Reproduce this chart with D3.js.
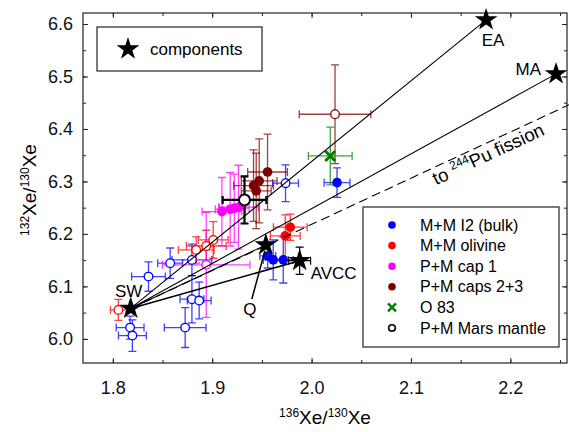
<!DOCTYPE html>
<html>
<head>
<meta charset="utf-8">
<script src="https://cdn.jsdelivr.net/npm/d3@7"></script>
<style>
  body { margin: 0; background: #fff; }
  svg text { font-family: "Liberation Sans", Arial, sans-serif; }
</style>
</head>
<body>
<div id="chart"></div>
<script>
// each point: [136Xe/130Xe, 132Xe/130Xe, xerr, yerr, open?]
const mmBulk = [
    [2.0256, 6.2977, 0.013, 0.028, 0],
    [1.9559, 6.1580, 0.008, 0.023, 0],
    [1.9614, 6.1505, 0.010, 0.038, 0],
    [1.9715, 6.1505, 0.010, 0.044, 0],
    [1.8174, 6.0215, 0.014, 0.022, 1],
    [1.8197, 6.0063, 0.014, 0.030, 1],
    [1.8728, 6.0215, 0.021, 0.038, 1],
    [1.8796, 6.0756, 0.012, 0.045, 1],
    [1.8869, 6.0730, 0.012, 0.035, 1],
    [1.8359, 6.1187, 0.017, 0.028, 1],
    [1.8577, 6.1442, 0.0125, 0.029, 1],
    [1.8796, 6.1505, 0.020, 0.030, 1],
    [1.9738, 6.2966, 0.013, 0.035, 1]
];
const mmOlivine = [
    [1.9786, 6.2128, 0.017, 0.025, 0],
    [1.9735, 6.1962, 0.015, 0.040, 0],
    [1.8056, 6.0552, 0.008, 0.020, 1],
    [1.8940, 6.1770, 0.020, 0.030, 1],
    [1.8839, 6.1695, 0.018, 0.025, 1],
    [1.9010, 6.1886, 0.015, 0.035, 1]
];
const pmCap1 = [
    [1.9098, 6.2425, 0.020, 0.065, 0],
    [1.9181, 6.2470, 0.015, 0.070, 0],
    [1.9222, 6.2490, 0.015, 0.065, 0],
    [1.9265, 6.2509, 0.020, 0.080, 0],
    [1.8940, 6.1410, 0.044, 0.100, 1]
];
const pmCaps23 = [
    [1.9557, 6.3180, 0.020, 0.072, 0],
    [1.9473, 6.3010, 0.018, 0.080, 0],
    [1.9416, 6.2920, 0.020, 0.068, 0],
    [1.9443, 6.2820, 0.015, 0.072, 0],
    [2.0236, 6.4280, 0.036, 0.094, 1]
];
const o83 = [
    [2.0188, 6.3486, 0.022, 0.055, 0]
];
const marsMantle = [
    [1.9325, 6.2648, 0.022, 0.045, 1]
];

// components (stars)
const compNames = ["SW", "Q", "AVCC", "EA", "MA"];
const compX = [1.818, 1.954, 1.988, 2.1756, 2.246];
const compY = [6.058, 6.179, 6.149, 6.608, 6.505];
const avccErr = [0.011, 0.026];
// end of the 244Pu fission direction line
const puEnd = [2.26, 6.447];

const xMajor = [1.8, 1.9, 2.0, 2.1, 2.2];
const xMinor = [1.8, 1.85, 1.9, 1.95, 2.0, 2.05, 2.1, 2.15, 2.2, 2.25];
const yMajor = [6.0, 6.1, 6.2, 6.3, 6.4, 6.5, 6.6];
const yMinor = [6.0, 6.05, 6.1, 6.15, 6.2, 6.25, 6.3, 6.35, 6.4, 6.45, 6.5, 6.55, 6.6];

const series = [
    { name: "M+M I2 (bulk)", color: "#0000ff", data: mmBulk, mark: "dot" },
    { name: "M+M olivine", color: "#ff0000", data: mmOlivine, mark: "dot" },
    { name: "P+M cap 1", color: "#ff00ff", data: pmCap1, mark: "dot" },
    { name: "P+M caps 2+3", color: "#800000", data: pmCaps23, mark: "dot" },
    { name: "O 83", color: "#008000", data: o83, mark: "cross" },
    { name: "P+M Mars mantle", color: "#000000", data: marsMantle, mark: "dot" }
];

const width = 569, height = 432;
const x = d3.scaleLinear().domain([1.77, 2.257]).range([83, 567]);
const y = d3.scaleLinear().domain([5.954, 6.621]).range([363, 13]);

const svg = d3.select("#chart").append("svg")
    .attr("width", width)
    .attr("height", height);

// axes, all ticks pointing inside
function axis(gen, transform, vals, size, labels) {
    const g = svg.append("g").attr("transform", transform)
        .call(gen.tickValues(vals).tickSizeInner(size).tickSizeOuter(0)
            .tickFormat(labels ? d3.format(".1f") : ""));
    g.select(".domain").remove();
    g.selectAll("line").attr("stroke", "#222");
    g.selectAll("text").attr("font-size", "18px").attr("fill", "#111")
        .style("font-family", '"Liberation Sans", Arial, sans-serif');
    return g;
}
axis(d3.axisBottom(x).tickPadding(18), "translate(0,363)", xMajor, -5, true);
axis(d3.axisBottom(x), "translate(0,363)", xMinor, -3, false);
axis(d3.axisTop(x), "translate(0,13)", xMajor, -5, false);
axis(d3.axisTop(x), "translate(0,13)", xMinor, -3, false);
axis(d3.axisLeft(y).tickPadding(10), "translate(83,0)", yMajor, -5, true);
axis(d3.axisLeft(y), "translate(83,0)", yMinor, -3, false);
axis(d3.axisRight(y), "translate(567,0)", yMajor, -5, false);
axis(d3.axisRight(y), "translate(567,0)", yMinor, -3, false);

svg.append("rect")
    .attr("x", 83).attr("y", 13)
    .attr("width", 567 - 83).attr("height", 363 - 13)
    .attr("fill", "none").attr("stroke", "#222").attr("stroke-width", 1.2);

// axis titles
svg.append("text")
    .attr("x", 325).attr("y", 424)
    .attr("text-anchor", "middle")
    .attr("font-size", "19px")
    .html('<tspan font-size="12px" dy="-7">136</tspan><tspan dy="7">Xe/</tspan><tspan font-size="12px" dy="-7">130</tspan><tspan dy="7">Xe</tspan>');

svg.append("text")
    .attr("transform", "translate(36,190) rotate(-90)")
    .attr("text-anchor", "middle")
    .attr("font-size", "19px")
    .html('<tspan font-size="12px" dy="-7">132</tspan><tspan dy="7">Xe/</tspan><tspan font-size="12px" dy="-7">130</tspan><tspan dy="7">Xe</tspan>');

const plot = svg.append("g");
const cap = 4;

// error bars
series.forEach(function (s) {
    const g = plot.append("g")
        .attr("stroke", s.color)
        .attr("stroke-width", s.name === "P+M Mars mantle" ? 2.2 : 1.3)
        .attr("stroke-opacity", s.name === "P+M Mars mantle" ? 1 : 0.75)
        .attr("fill", "none");
    s.data.forEach(function (d) {
        const cx = x(d[0]), cy = y(d[1]);
        const x0 = x(d[0] - d[2]), x1 = x(d[0] + d[2]);
        const y0 = y(d[1] - d[3]), y1 = y(d[1] + d[3]);
        g.append("path").attr("d",
            "M" + x0 + "," + cy + "H" + x1 +
            "M" + x0 + "," + (cy - cap) + "V" + (cy + cap) +
            "M" + x1 + "," + (cy - cap) + "V" + (cy + cap) +
            "M" + cx + "," + y0 + "V" + y1 +
            "M" + (cx - cap) + "," + y0 + "H" + (cx + cap) +
            "M" + (cx - cap) + "," + y1 + "H" + (cx + cap));
    });
});

// markers
series.forEach(function (s) {
    s.data.forEach(function (d) {
        const cx = x(d[0]), cy = y(d[1]);
        if (s.mark === "cross") {
            plot.append("path")
                .attr("d", "M-5,-5L5,5M-5,5L5,-5")
                .attr("transform", "translate(" + cx + "," + cy + ")")
                .attr("stroke", s.color).attr("stroke-width", 3);
        } else if (d[4]) {
            plot.append("circle")
                .attr("cx", cx).attr("cy", cy)
                .attr("r", s.name === "P+M Mars mantle" ? 5.5 : 4.3)
                .attr("fill", "#fff").attr("stroke", s.color)
                .attr("stroke-width", s.name === "P+M Mars mantle" ? 2 : 1.3);
        } else {
            plot.append("circle")
                .attr("cx", cx).attr("cy", cy).attr("r", 4.8)
                .attr("fill", s.color);
        }
    });
});

// mixing lines from SW
const sw = [x(compX[0]), y(compY[0])];
[1, 2, 3, 4].forEach(function (i) {
    plot.append("line")
        .attr("x1", sw[0]).attr("y1", sw[1])
        .attr("x2", x(compX[i])).attr("y2", y(compY[i]))
        .attr("stroke", "#000")
        .attr("stroke-width", compNames[i] === "AVCC" ? 1.6 : 1.1);
});
const pu = [x(puEnd[0]), y(puEnd[1])];
plot.append("line")
    .attr("x1", sw[0]).attr("y1", sw[1])
    .attr("x2", pu[0]).attr("y2", pu[1])
    .attr("stroke", "#000").attr("stroke-width", 1.1)
    .attr("stroke-dasharray", "9,5");

// Pu fission label along the dashed line
const ang = Math.atan2(pu[1] - sw[1], pu[0] - sw[0]);
const t0 = (x(2.118) - sw[0]) / (pu[0] - sw[0]);
const lx = sw[0] + t0 * (pu[0] - sw[0]) - Math.sin(ang) * 17;
const ly = sw[1] + t0 * (pu[1] - sw[1]) + Math.cos(ang) * 17;
svg.append("text")
    .attr("transform", "translate(" + lx + "," + ly + ") rotate(" + (ang * 180 / Math.PI) + ")")
    .attr("font-size", "18.5px")
    .html('to <tspan font-size="12px" dy="-7">244</tspan><tspan dy="7">Pu fission</tspan>');

// AVCC error bars
const av = [x(compX[2]), y(compY[2])];
plot.append("path")
    .attr("d",
        "M" + x(compX[2] - avccErr[0]) + "," + av[1] + "H" + x(compX[2] + avccErr[0]) +
        "M" + x(compX[2] - avccErr[0]) + "," + (av[1] - cap) + "V" + (av[1] + cap) +
        "M" + x(compX[2] + avccErr[0]) + "," + (av[1] - cap) + "V" + (av[1] + cap) +
        "M" + av[0] + "," + y(compY[2] - avccErr[1]) + "V" + y(compY[2] + avccErr[1]) +
        "M" + (av[0] - cap) + "," + y(compY[2] - avccErr[1]) + "H" + (av[0] + cap) +
        "M" + (av[0] - cap) + "," + y(compY[2] + avccErr[1]) + "H" + (av[0] + cap))
    .attr("stroke", "#000").attr("stroke-width", 1.2).attr("fill", "none");

// Q pointer
const qx = x(compX[1]), qy = y(compY[1]);
plot.append("line")
    .attr("x1", qx - 14).attr("y1", qy + 54)
    .attr("x2", qx - 1).attr("y2", qy + 6)
    .attr("stroke", "#000").attr("stroke-width", 1.5);

// stars
const star = d3.symbol(d3.symbolStar, 160);
compNames.forEach(function (n, i) {
    plot.append("path")
        .attr("d", star())
        .attr("transform", "translate(" + x(compX[i]) + "," + y(compY[i]) + ")")
        .attr("fill", "#000");
});

// component labels (offsets in px from the star)
const labelOff = {
    SW: [-2, -11, "middle"],
    Q: [-16, 70, "middle"],
    AVCC: [11, 18, "start"],
    EA: [7, 26, "middle"],
    MA: [-15, 1, "end"]
};
compNames.forEach(function (n, i) {
    const o = labelOff[n];
    svg.append("text")
        .attr("x", x(compX[i]) + o[0])
        .attr("y", y(compY[i]) + o[1])
        .attr("text-anchor", o[2])
        .attr("font-size", "17px")
        .text(n);
});

// top-left legend
svg.append("rect")
    .attr("x", 97).attr("y", 27).attr("width", 165).attr("height", 44)
    .attr("fill", "#fff").attr("stroke", "#222").attr("stroke-width", 1.2);
svg.append("path")
    .attr("d", star())
    .attr("transform", "translate(128,49)");
svg.append("text")
    .attr("x", 150).attr("y", 55)
    .attr("font-size", "17px")
    .text("components");

// right legend
const legend = svg.append("g").attr("transform", "translate(363,207)");
legend.append("rect")
    .attr("width", 196).attr("height", 140)
    .attr("fill", "#fff").attr("stroke", "#222").attr("stroke-width", 1.2);
const rowH = 20.6;
series.forEach(function (s, i) {
    const ry = 18 + i * rowH;
    if (s.mark === "cross") {
        legend.append("path")
            .attr("d", "M-4,-4L4,4M-4,4L4,-4")
            .attr("transform", "translate(29," + ry + ")")
            .attr("stroke", s.color).attr("stroke-width", 2.5);
    } else if (s.name === "P+M Mars mantle") {
        legend.append("circle")
            .attr("cx", 29).attr("cy", ry).attr("r", 3.3)
            .attr("fill", "#fff").attr("stroke", s.color).attr("stroke-width", 1.6);
    } else {
        legend.append("circle")
            .attr("cx", 29).attr("cy", ry).attr("r", 3.8)
            .attr("fill", s.color);
    }
    legend.append("text")
        .attr("x", 57).attr("y", ry + 5.5)
        .attr("font-size", "16px")
        .text(s.name);
});
</script>
</body>
</html>
